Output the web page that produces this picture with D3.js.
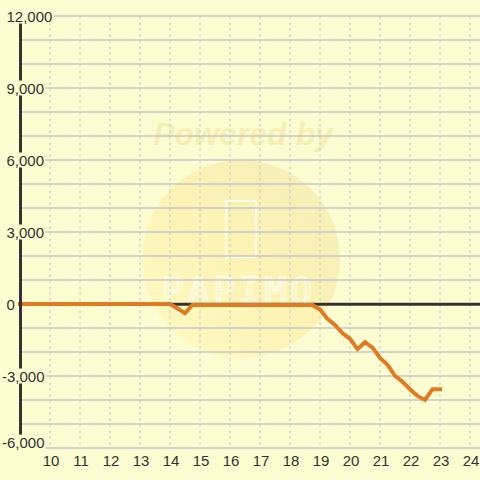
<!DOCTYPE html>
<html><head><meta charset="utf-8">
<script src="https://cdn.jsdelivr.net/npm/d3@7"></script>
<style>html,body{margin:0;padding:0;background:#fdfdd1;}svg{display:block;}</style>
</head><body>
<svg id="chart" width="480" height="480"></svg>
<script>
// Data (hour of day, value)
const hours  = [9.0, 14.0, 14.25, 14.5, 14.75, 18.75, 19.0, 19.25, 19.5, 19.75, 20.0, 20.25, 20.5, 20.75, 21.0, 21.25, 21.5, 21.75, 22.0, 22.25, 22.5, 22.75, 23.0];
const values = [0, 0, -190, -380, -40, -40, -230, -620, -870, -1220, -1450, -1880, -1590, -1820, -2250, -2530, -2990, -3240, -3550, -3830, -4000, -3550, -3550];
const xTicks = [10, 11, 12, 13, 14, 15, 16, 17, 18, 19, 20, 21, 22, 23, 24];
const yGrid = [12000, 11000, 10000, 9000, 8000, 7000, 6000, 5000, 4000, 3000, 2000, 1000, 0, -1000, -2000, -3000, -4000, -5000, -6000];
const yLabels = [12000, 9000, 6000, 3000, 0, -3000, -6000];

const svg = d3.select("#chart");
const W = 480, H = 480;
const bg = "#fdfdd1";
const x = d3.scaleLinear().domain([9, 24 + 1/3]).range([20, 480]);
const y = d3.scaleLinear().domain([-6000, 12000]).range([448, 16]);

svg.append("rect").attr("width", W).attr("height", H).attr("fill", bg);

// watermark
const wm = svg.append("g");
const grad = svg.append("defs").append("linearGradient").attr("id", "wmg")
  .attr("x1", "0").attr("y1", "1").attr("x2", "1").attr("y2", "0");
grad.append("stop").attr("offset", "0").attr("stop-color", "#fffbc4");
grad.append("stop").attr("offset", "0.5").attr("stop-color", "#fcf3b4");
grad.append("stop").attr("offset", "1").attr("stop-color", "#f3edb8");
wm.append("circle").attr("cx", 241).attr("cy", 259).attr("r", 99).attr("fill", "url(#wmg)");
wm.append("text").attr("x", 243).attr("y", 145).attr("text-anchor", "middle")
  .attr("font-family", "Liberation Sans, Arial, sans-serif").attr("font-weight", "bold")
  .attr("font-style", "italic").attr("font-size", 32).attr("fill", "#f5efb4").text("Powered by");
wm.append("rect").attr("x", 226).attr("y", 201).attr("width", 30).attr("height", 56).attr("rx", 2)
  .attr("fill", "none").attr("stroke", "#fffde8").attr("stroke-width", 2);
wm.append("text").attr("x", 239).attr("y", 303).attr("text-anchor", "middle")
  .attr("font-family", "DejaVu Sans Mono, monospace").attr("font-size", 36).attr("letter-spacing", 4)
  .attr("fill", "none").attr("stroke", "#fffde8").attr("stroke-width", 1.5).text("PAPIMO");

// horizontal grid
svg.append("g").selectAll("line").data(yGrid).join("line")
  .attr("x1", 22).attr("x2", W).attr("y1", d => y(d)).attr("y2", d => y(d))
  .attr("stroke", "#c6c6cc").attr("stroke-width", 1.5);
// vertical dashed grid
svg.append("g").selectAll("line").data(xTicks).join("line")
  .attr("x1", d => x(d)).attr("x2", d => x(d)).attr("y1", y(12000)).attr("y2", y(-6000))
  .attr("stroke", "#c8c8c8").attr("stroke-width", 1).attr("stroke-dasharray", "3,3");

// zero line
svg.append("line").attr("x1", 21).attr("x2", W).attr("y1", y(0) + 0.3).attr("y2", y(0) + 0.3)
  .attr("stroke", "#333").attr("stroke-width", 3);

// series line
const pts = hours.map((h, i) => [h, values[i]]);
svg.append("path").datum(pts)
  .attr("d", d3.line().x(d => x(d[0])).y(d => y(d[1])))
  .attr("fill", "none").attr("stroke", "#e07b24").attr("stroke-width", 4)
  .attr("stroke-linejoin", "miter").attr("stroke-linecap", "square");

// y axis line
svg.append("line").attr("x1", 20.5).attr("x2", 20.5).attr("y1", y(12000)).attr("y2", y(-6000))
  .attr("stroke", "#333").attr("stroke-width", 3);

// y labels with background boxes (kept above the x-axis label band)
const fmt = d3.format(",");
const yl = svg.append("g").attr("font-family", "Liberation Sans, Arial, sans-serif").attr("font-size", 15).attr("fill", "#333");
yLabels.forEach(v => {
  const cy = Math.min(y(v), 442);
  const t = yl.append("text").attr("x", v < 0 ? 2 : 6.5).attr("y", cy + 5.5).text(fmt(v).replace("−", "-"));
  const b = t.node().getBBox();
  yl.insert("rect", "text").attr("x", b.x - 1).attr("y", cy - 7.5).attr("width", b.width + 2).attr("height", 15).attr("fill", bg);
});
// x labels
svg.append("g").attr("font-family", "Liberation Sans, Arial, sans-serif").attr("font-size", 15).attr("fill", "#333")
  .selectAll("text").data(xTicks).join("text")
  .attr("x", d => x(d) + 1).attr("y", 466).attr("text-anchor", "middle").text(d => d);
</script>
</body></html>
